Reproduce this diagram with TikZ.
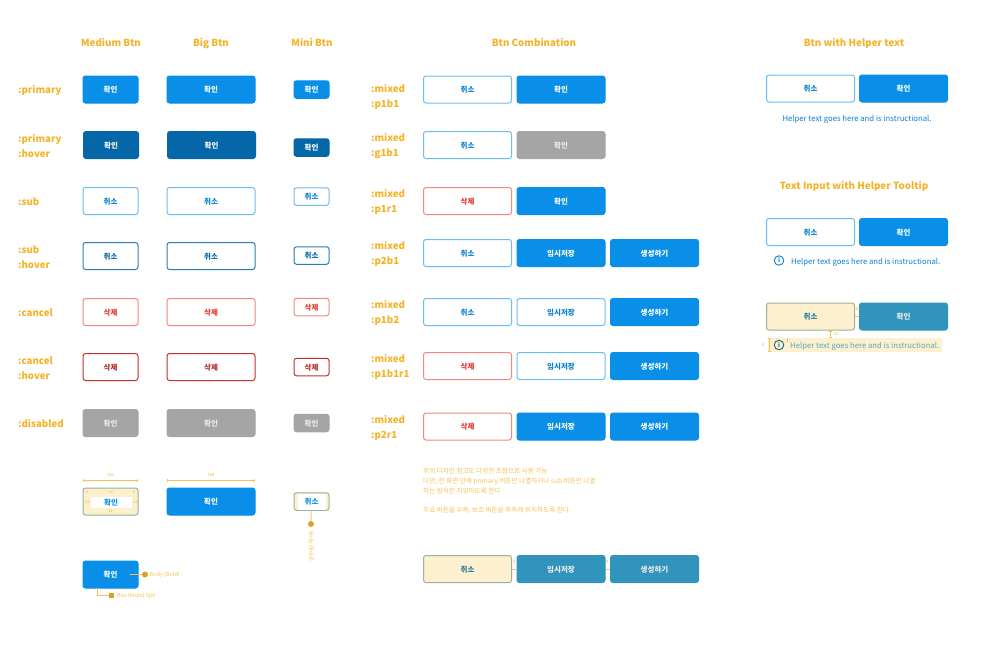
\documentclass[tikz,border=0pt]{standalone}
\usepackage{fontspec}
\setmainfont{Noto Sans CJK KR}
\newfontfamily\cjk{Noto Sans CJK KR}
\usetikzlibrary{arrows.meta}
\definecolor{guideyellow}{HTML}{F5B32A}
\definecolor{guidecream}{HTML}{FCF0CE}
\definecolor{guideteal}{HTML}{3194BC}
\definecolor{btnblue}{HTML}{0A8FE8}
\definecolor{btnhover}{HTML}{0667A8}
\definecolor{btnred}{HTML}{E53935}
\definecolor{btngrey}{HTML}{A5A5A5}
\tikzset{
  btn/.style={rounded corners=2.5pt,inner sep=0pt,line width=1pt,text height=6.8pt,text depth=0pt,
    font=\cjk\bfseries\fontsize{7.5}{9}\selectfont},
  btn med/.style={btn,minimum width=55pt,minimum height=27pt},
  btn big/.style={btn,minimum width=88pt,minimum height=27pt},
  btn mini/.style={btn,minimum width=35pt,minimum height=17.5pt},
  btn primary/.style={fill=btnblue,draw=btnblue,text=white},
  btn phover/.style={fill=btnhover,draw=btnhover,text=white},
  btn sub/.style={fill=white,draw=btnblue!60,text=btnblue!90!black},
  btn shover/.style={fill=white,draw=btnhover!85,text=btnhover},
  btn cancel/.style={fill=white,draw=btnred!60,text=btnred},
  btn chover/.style={fill=white,draw=btnred!85!black,text=btnred!80!black},
  btn disabled/.style={fill=btngrey,draw=btngrey,text=white!92!black},
  btn cream/.style={fill=guidecream,draw=guideteal!60!guideyellow!80!white,text=guideteal!85!black},
  btn teal/.style={fill=guideteal,draw=guideteal,text=white!92!black},
  col title/.style={text=guideyellow,inner sep=0pt,text height=7.5pt,text depth=2pt,
    font=\bfseries\fontsize{9.8}{12}\selectfont},
  row label/.style={anchor=west,align=left,inner sep=0pt,text=guideyellow,
    font=\bfseries\fontsize{9.7}{15}\selectfont},
  guide line/.style={guideyellow!80,line width=0.8pt},
  guide tiny/.style={text=guideyellow,inner sep=0pt,font=\fontsize{4}{5}\selectfont},
  guide note/.style={anchor=west,inner sep=0pt,text=guideyellow!80,
    font=\fontsize{5.5}{7}\selectfont},
  guide dot/.style={circle,fill=guideyellow!90!black,minimum size=6pt,inner sep=0pt},
  helper text/.style={text=btnblue!90!black,inner sep=0pt,
    font=\fontsize{7.75}{10}\selectfont},
  info icon/.style={circle,draw,line width=0.9pt,minimum size=9.5pt,inner sep=0pt,
    font=\bfseries\fontsize{6}{7}\selectfont}
}

\begin{document}
\begin{tikzpicture}[x=1pt,y=-1pt]
  \useasboundingbox[fill=white] (0,0) rectangle (1000,667);

  % column titles
  \node[col title] (tMedium) at (111,43.5) {Medium Btn};
  \node[col title] (tBig) at (211,43.5) {Big Btn};
  \node[col title] (tMini) at (312,43.5) {Mini Btn};
  \node[col title] (tCombo) at (534,43.5) {Btn Combination};
  \node[col title] (tHelper) at (854,43.5) {Btn with Helper text};
  \node[col title] (tTooltip) at (854,186.5) {Text Input with Helper Tooltip};

  % row labels
  \node[row label] (lPrimary) at (18,91) {:primary};
  \node[row label] (lPrimaryH) at (18,146.5) {:primary\\:hover};
  \node[row label] (lSub) at (18,202) {:sub};
  \node[row label] (lSubH) at (18,257) {:sub\\:hover};
  \node[row label] (lCancel) at (18,313) {:cancel};
  \node[row label] (lCancelH) at (18,368) {:cancel\\:hover};
  \node[row label] (lDisabled) at (18,424) {:disabled};

  % medium
  \node[btn med,btn primary] (mPrimary) at (110.5,89.5) {확인};
  \node[btn med,btn phover] (mPrimaryH) at (111,145) {확인};
  \node[btn med,btn sub] (mSub) at (110.5,201) {취소};
  \node[btn med,btn shover] (mSubH) at (110.5,256) {취소};
  \node[btn med,btn cancel] (mCancel) at (110.5,312) {삭제};
  \node[btn med,btn chover] (mCancelH) at (110.5,367) {삭제};
  \node[btn med,btn disabled] (mDisabled) at (110.5,423) {확인};

  % big
  \node[btn big,btn primary] (bPrimary) at (211,89.5) {확인};
  \node[btn big,btn phover] (bPrimaryH) at (211.5,145) {확인};
  \node[btn big,btn sub] (bSub) at (211,201) {취소};
  \node[btn big,btn shover] (bSubH) at (211,256) {취소};
  \node[btn big,btn cancel] (bCancel) at (211,312) {삭제};
  \node[btn big,btn chover] (bCancelH) at (211,367) {삭제};
  \node[btn big,btn disabled] (bDisabled) at (211,423) {확인};

  % mini
  \node[btn mini,btn primary] (sPrimary) at (311.5,89.5) {확인};
  \node[btn mini,btn phover] (sPrimaryH) at (311.5,147.5) {확인};
  \node[btn mini,btn sub] (sSub) at (311.5,196.5) {취소};
  \node[btn mini,btn shover] (sSubH) at (311.5,255.5) {취소};
  \node[btn mini,btn cancel] (sCancel) at (311.5,307) {삭제};
  \node[btn mini,btn chover] (sCancelH) at (311.5,367) {삭제};
  \node[btn mini,btn disabled] (sDisabled) at (311.5,423) {확인};

  % combinations
  \node[row label] (lP1b1) at (371,97) {:mixed\\:p1b1};
  \node[btn big,btn sub] (cA1) at (467.5,89.5) {취소};
  \node[btn big,btn primary] (cA2) at (561,89.5) {확인};
  \node[row label] (lG1b1) at (371,146) {:mixed\\:g1b1};
  \node[btn big,btn sub] (cB1) at (467.5,145) {취소};
  \node[btn big,btn disabled] (cB2) at (561,145) {확인};
  \node[row label] (lP1r1) at (371,201.5) {:mixed\\:p1r1};
  \node[btn big,btn cancel] (cC1) at (467.5,201) {삭제};
  \node[btn big,btn primary] (cC2) at (561,201) {확인};
  \node[row label] (lP2b1) at (371,253.5) {:mixed\\:p2b1};
  \node[btn big,btn sub] (cD1) at (467.5,253) {취소};
  \node[btn big,btn primary] (cD2) at (561,253) {임시저장};
  \node[btn big,btn primary] (cD3) at (654.5,253) {생성하기};
  \node[row label] (lP1b2) at (371,313) {:mixed\\:p1b2};
  \node[btn big,btn sub] (cE1) at (467.5,312) {취소};
  \node[btn big,btn sub] (cE2) at (561,312) {임시저장};
  \node[btn big,btn primary] (cE3) at (654.5,312) {생성하기};
  \node[row label] (lP1b1r1) at (371,366.5) {:mixed\\:p1b1r1};
  \node[btn big,btn cancel] (cF1) at (467.5,366) {삭제};
  \node[btn big,btn sub] (cF2) at (561,366) {임시저장};
  \node[btn big,btn primary] (cF3) at (654.5,366) {생성하기};
  \node[row label] (lP2r1) at (371,427.5) {:mixed\\:p2r1};
  \node[btn big,btn cancel] (cG1) at (467.5,426.5) {삭제};
  \node[btn big,btn primary] (cG2) at (561,426.5) {임시저장};
  \node[btn big,btn primary] (cG3) at (654.5,426.5) {생성하기};

  % guide note
  \node[guide note,font=\cjk\fontsize{6.6}{10}\selectfont,align=left] (gNoteA) at (423,480.5)
    {위의 디자인 참고도 다양한 조합으로 사용 가능\\다만, 한 화면 안에 primary 버튼만 나열하거나 sub 버튼만 나열\\하는 방식은 지양하도록 한다};
  \node[guide note,font=\cjk\fontsize{6.6}{10}\selectfont] (gNoteB) at (423,510.5)
    {주요 버튼을 우측, 보조 버튼을 좌측에 위치하도록 한다.};

  % guide combination
  \node[btn big,btn cream] (gC1) at (467.5,569) {취소};
  \node[btn big,btn teal] (gC2) at (561,569) {임시저장};
  \node[btn big,btn teal] (gC3) at (654.5,569) {생성하기};
  \draw[guide line] (gC1)--(gC2) (gC2)--(gC3);
  \node[guide tiny] (gGapA) at (514.5,562) {8};
  \node[guide tiny] (gGapB) at (607.5,562) {8};

  % helper text
  \node[btn big,btn sub] (hA1) at (810.5,88.5) {취소};
  \node[btn big,btn primary] (hA2) at (903.5,88.5) {확인};
  \node[helper text] (hAText) at (857,119) {Helper text goes here and is instructional.};

  % tooltip
  \node[btn big,btn sub] (hB1) at (810.5,232) {취소};
  \node[btn big,btn primary] (hB2) at (903.5,232) {확인};
  \node[info icon,draw=btnblue!90!black,text=btnblue!90!black] (hBIcon) at (779,260.5) {i};
  \node[helper text,anchor=west] (hBText) at (791,262) {Helper text goes here and is instructional.};

  % tooltip guide
  \fill[guidecream] (768,338) rectangle (942,352);
  \node[btn big,btn cream] (hC1) at (810.5,316.5) {취소};
  \node[btn big,btn teal] (hC2) at (903.5,316.5) {확인};
  \draw[guide line] (hC1)--(hC2);
  \node[guide tiny] (hCGap) at (857,309) {8};
  \node[info icon,draw=guideteal!70!black,text=guideteal!70!black] (hCIcon) at (779,345) {i};
  \node[helper text,anchor=west,text=guideteal!80!guidecream] (hCText) at (790,346.5) {Helper text goes here and is instructional.};
  \coordinate (hCTip) at (830,338);
  \coordinate (hCBarT) at (769,338);
  \coordinate (hCBarB) at (769,352);
  \coordinate (hCGapT) at (787,338);
  \coordinate (hCGapB) at (787,342);
  \draw[guide line,{Bar[width=3pt]}-{Bar[width=3pt]}] (hC1.south-|hCTip)--(hCTip);
  \draw[guide line,{Bar[width=3pt]}-{Bar[width=3pt]}] (hCBarT)--(hCBarB);
  \draw[guide line] (hCGapT)--(hCGapB);
  \node[guide tiny] (hCTipNum) at (836,334) {12};
  \node[guide tiny] (hCBarNum) at (763,345) {8};

  % guide medium
  \node[btn med,btn sub,fill=guidecream,draw=guideteal!60!guideyellow!80!white] (gMed) at (110.5,501.5) {};
  \node[fill=white,minimum width=41pt,minimum height=11pt,inner sep=0pt,
    text=btnblue,font=\cjk\bfseries\fontsize{7.5}{9}\selectfont] (gMedIn) at (111,502.5) {확인};
  \coordinate (gMedL) at (83,480.5);
  \coordinate (gMedR) at (138,480.5);
  \draw[guide line,{Bar[width=3pt]}-{Bar[width=3pt]}] (gMedL)--(gMedR);
  \node[guide tiny] (gMedW) at (110.5,475) {100};
  \node[guide tiny] (gMedT) at (110.5,492) {12};
  \node[guide tiny] (gMedB) at (110.5,511.5) {12};
  \node[guide tiny] (gMedLn) at (87,492) {5};
  \node[guide tiny] (gMedRn) at (134,492) {5};
  \node[guide tiny] (gMedLm) at (87,502) {12};
  \node[guide tiny] (gMedRm) at (135,502) {12};

  % guide big
  \node[btn big,btn primary] (gBig) at (211,501.5) {확인};
  \coordinate (gBigL) at (167,480.5);
  \coordinate (gBigR) at (255,480.5);
  \draw[guide line,{Bar[width=3pt]}-{Bar[width=3pt]}] (gBigL)--(gBigR);
  \node[guide tiny] (gBigW) at (211,475) {160};

  % guide mini
  \node[btn mini,btn sub,fill=guidecream,draw=guideteal!60!guideyellow!80!white] (gMini) at (311.5,501.5) {};
  \node[fill=white,minimum width=28pt,minimum height=16pt,inner sep=0pt,
    text=btnblue,font=\cjk\bfseries\fontsize{7.5}{9}\selectfont] (gMiniIn) at (311.5,501.5) {취소};
  \node[guide dot] (gMiniDot) at (311,524) {};
  \draw[guide line] (gMini)--(gMiniDot);
  \node[guide note,rotate=-90] (gMiniText) at (311,531) {Body (Bold)};

  % body and round notes
  \node[btn med,btn primary] (gBody) at (110.5,574.5) {확인};
  \coordinate (gBodyIn) at (130,574.5);
  \node[guide dot] (gBodyDot) at (145,574.5) {};
  \draw[guide line] (gBodyIn)--(gBodyDot);
  \node[guide note] (gBodyText) at (149.5,575) {Body (Bold)};
  \coordinate (gRoundIn) at (97,588);
  \node[fill=guideyellow!90!black,minimum size=5pt,inner sep=0pt] (gRoundDot) at (111.5,595) {};
  \draw[guide line] (gRoundIn)|-(gRoundDot);
  \node[guide note] (gRoundText) at (117,595.5) {Box Round 5px};
\end{tikzpicture}
\end{document}
